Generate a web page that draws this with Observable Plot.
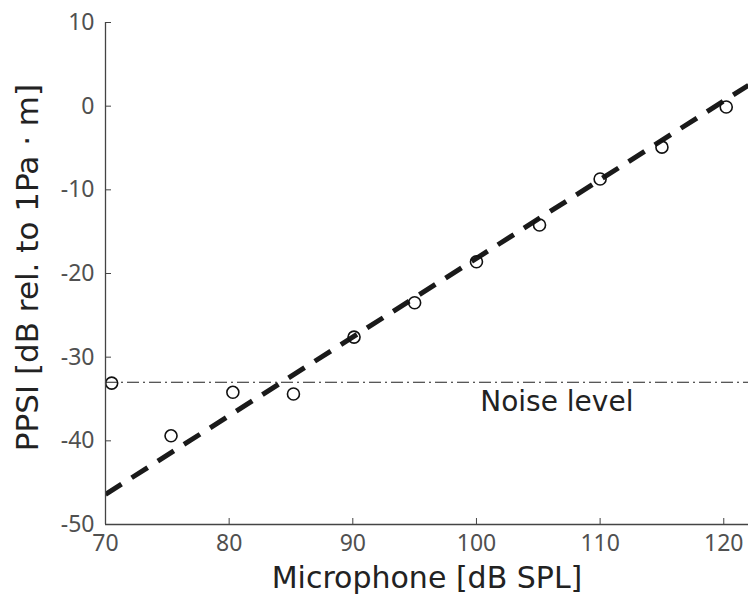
<!DOCTYPE html>
<html>
<head>
<meta charset="utf-8">
<script src="https://cdn.jsdelivr.net/npm/d3@7"></script>
<script src="https://cdn.jsdelivr.net/npm/@observablehq/plot@0.6"></script>
<style>
  html, body { margin: 0; padding: 0; background: #fff; }
  #chart svg { display: block; }
</style>
</head>
<body>
<div id="chart"></div>
<script>
const micX = [70.5, 75.3, 80.3, 85.2, 90.1, 95.0, 100.0, 105.1, 110.0, 115.0, 120.2];
const ppsiY = [-33.1, -39.4, -34.2, -34.4, -27.6, -23.5, -18.6, -14.2, -8.7, -4.9, -0.1];
const fitX = [70, 122];
const fitY = [-46.4, 2.5];
const noiseLevel = -33;
const noiseLabel = "Noise level";
const noiseLabelX = 106.5;
const xTicks = [70, 80, 90, 100, 110, 120];
const yTicks = [-50, -40, -30, -20, -10, 0, 10];

const points = micX.map((x, i) => ({x, y: ppsiY[i]}));
const fit = fitX.map((x, i) => ({x, y: fitY[i]}));

const tickFont = "Noto Sans, DejaVu Sans, sans-serif";
const labelFont = "DejaVu Sans, Noto Sans, sans-serif";
const axisColor = "#444";

const chart = Plot.plot({
  width: 750,
  height: 601,
  marginLeft: 105,
  marginRight: 2,
  marginTop: 22,
  marginBottom: 77,
  style: {fontFamily: tickFont, background: "#fff", overflow: "visible"},
  x: {domain: [70, 122], ticks: xTicks, label: null},
  y: {domain: [-50, 10], ticks: yTicks, label: null},
  marks: [
    Plot.ruleY([noiseLevel], {stroke: "#222", strokeWidth: 1.2, strokeDasharray: "12,4,2,4"}),
    Plot.text([noiseLabel], {x: noiseLabelX, y: noiseLevel, text: d => d, dy: 20, fontSize: 28, fill: "#222", textAnchor: "middle", fontFamily: labelFont}),
    Plot.line(fit, {x: "x", y: "y", stroke: "#1a1a1a", strokeWidth: 5, strokeDasharray: "19,12", strokeLinecap: "butt", clip: true}),
    Plot.dot(points, {x: "x", y: "y", r: 6, stroke: "#111", strokeWidth: 1.6, fill: "none"}),
    Plot.axisX({ticks: xTicks, tickSize: -6, tickPadding: 16, fontSize: 23, color: "#505050", stroke: axisColor, label: null, tickFormat: d => String(d)}),
    Plot.axisY({ticks: yTicks, tickSize: -6, tickPadding: 17, fontSize: 23, color: "#505050", stroke: axisColor, label: null, tickFormat: d => String(d)}),
    Plot.ruleY([-50], {stroke: axisColor, strokeWidth: 1.3}),
    Plot.ruleX([70], {stroke: axisColor, strokeWidth: 1.3}),
    Plot.text(["Microphone [dB SPL]"], {frameAnchor: "bottom", dy: 63, text: d => d, fontSize: 30, fill: "#222", fontFamily: labelFont}),
    Plot.text(["PPSI [dB rel. to 1Pa \u00B7 m]"], {frameAnchor: "left", textAnchor: "middle", dx: -77, dy: -6, rotate: -90, text: d => d, fontSize: 31, fill: "#222", fontFamily: labelFont})
  ]
});
document.getElementById("chart").appendChild(chart);
</script>
</body>
</html>
